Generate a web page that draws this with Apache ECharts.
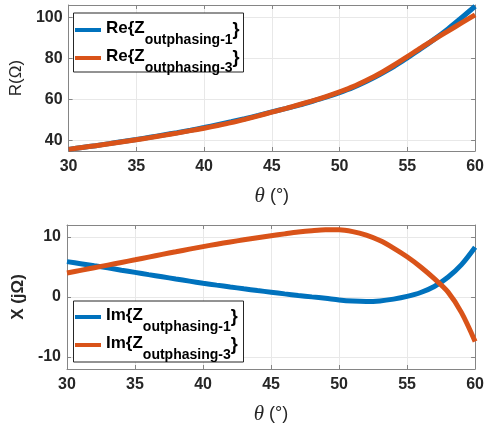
<!DOCTYPE html>
<html>
<head>
<meta charset="utf-8">
<title>Outphasing impedance</title>
<script src="https://cdn.jsdelivr.net/npm/echarts@6/dist/echarts.min.js"></script>
<style>
  html, body { margin: 0; padding: 0; background: #fff; }
  #chart { width: 487px; height: 426px; }
</style>
</head>
<body>
<div id="chart"></div>
<script>
// 数据（从原图读取，θ 每 1°）
const theta = [30, 31, 32, 33, 34, 35, 36, 37, 38, 39, 40, 41, 42, 43, 44, 45,
  46, 47, 48, 49, 50, 51, 52, 53, 54, 55, 56, 57, 58, 59, 60];

const reZ1 = [35.8, 36.7, 37.6, 38.6, 39.6, 40.6, 41.7, 42.8, 43.9, 45.1, 46.4, 47.8, 49.2, 50.7, 52.3, 54.0,
  55.6, 57.3, 59.2, 61.2, 63.4, 65.9, 68.9, 72.3, 76.0, 80.3, 84.7, 89.4, 94.4, 99.8, 105.4];
const reZ3 = [35.8, 36.7, 37.6, 38.5, 39.5, 40.5, 41.5, 42.6, 43.7, 44.9, 46.1, 47.4, 48.8, 50.4, 52.1, 53.9,
  55.6, 57.5, 59.4, 61.5, 63.8, 66.3, 69.4, 72.8, 76.7, 80.9, 85.2, 89.3, 93.3, 97.3, 101.2];

const imZ1 = [5.9, 5.55, 5.2, 4.85, 4.47, 4.1, 3.73, 3.37, 3.0, 2.65, 2.3, 1.98, 1.67, 1.37, 1.08, 0.8,
  0.52, 0.26, 0.02, -0.22, -0.5, -0.68, -0.75, -0.65, -0.35, 0.1, 0.75, 1.75, 3.3, 5.4, 8.3];
const imZ3 = [4.0, 4.44, 4.88, 5.32, 5.76, 6.2, 6.65, 7.1, 7.54, 7.98, 8.4, 8.8, 9.18, 9.53, 9.87, 10.2,
  10.52, 10.82, 11.05, 11.2, 11.2, 10.9, 10.3, 9.4, 8.15, 6.7, 5.0, 3.05, 0.85, -2.6, -7.4];

const xTicks = [30, 35, 40, 45, 50, 55, 60];
const reTicks = [40, 60, 80, 100];
const imTicks = [-10, 0, 10];

const BLUE = '#0072BD';
const ORANGE = '#D95319';
const TEXT = '#262626';
const BOX = '#858585';
const GRIDLINE = '#e8e8e8';
const FONT = 'Liberation Sans';

const legendNames = {
  're1': '{m|Re{Z}{s|outphasing-1}}',
  're3': '{m|Re{Z}{s|outphasing-3}}',
  'im1': '{m|Im{Z}{s|outphasing-1}}',
  'im3': '{m|Im{Z}{s|outphasing-3}}'
};

function pairs(xs, ys) {
  return xs.map((x, i) => [x, ys[i]]);
}

// 主坐标轴 + 边框上的对侧坐标轴
function xAxes(gridIndex) {
  const base = {
    type: 'value', gridIndex, min: xTicks[0], max: xTicks[xTicks.length - 1], interval: 5,
    axisLine: { show: true, onZero: false, lineStyle: { color: BOX, width: 1 } },
    axisTick: { show: true, inside: true, length: 4, lineStyle: { color: BOX } }
  };
  return [
    Object.assign({}, base, {
      position: 'bottom',
      splitLine: { show: true, lineStyle: { color: GRIDLINE, width: 1 } },
      axisLabel: { color: TEXT, fontFamily: FONT, fontWeight: 'bold', fontSize: 16, margin: 8 },
      name: '{t|θ} {n|(°)}',
      nameLocation: 'middle',
      nameGap: 35,
      nameTextStyle: {
        color: TEXT, fontFamily: FONT, fontSize: 18,
        rich: {
          t: { fontFamily: 'Liberation Serif', fontStyle: 'italic', fontSize: 21, color: TEXT },
          n: { fontFamily: FONT, fontSize: 18, color: TEXT }
        }
      }
    }),
    Object.assign({}, base, {
      position: 'top',
      splitLine: { show: false },
      axisLabel: { show: false }
    })
  ];
}

function yAxes(gridIndex, min, max, ticks, name, weight, gap) {
  const base = {
    type: 'value', gridIndex, min, max,
    axisLine: { show: true, onZero: false, lineStyle: { color: BOX, width: 1 } },
    axisTick: { show: true, inside: true, length: 4, customValues: ticks, lineStyle: { color: BOX } }
  };
  return [
    Object.assign({}, base, {
      position: 'left',
      splitLine: { show: true, lineStyle: { color: GRIDLINE, width: 1 } },
      axisLabel: { customValues: ticks, color: TEXT, fontFamily: FONT, fontWeight: 'bold', fontSize: 16, margin: 6 },
      name,
      nameLocation: 'middle',
      nameGap: gap,
      nameTextStyle: { color: TEXT, fontFamily: FONT, fontSize: 17, fontWeight: weight }
    }),
    Object.assign({}, base, {
      position: 'right',
      splitLine: { show: false },
      axisLabel: { show: false }
    })
  ];
}

// 图例：框用 graphic 画，条目用 legend
function legend(names, top) {
  return {
    data: names,
    orient: 'vertical',
    left: 75,
    top,
    padding: 0,
    itemGap: -6,
    itemWidth: 26,
    itemHeight: 4,
    icon: 'rect',
    z: 20,
    formatter: name => legendNames[name],
    textStyle: {
      color: '#000', fontFamily: FONT, fontWeight: 'bold', fontSize: 18, lineHeight: 12,
      rich: {
        m: { fontFamily: FONT, fontWeight: 'bold', fontSize: 17, color: '#000', lineHeight: 20, padding: [0, 0, 4, 0] },
        s: { fontFamily: FONT, fontWeight: 'bold', fontSize: 14, color: '#000', lineHeight: 16, padding: [20, 0, 0, 0] }
      }
    }
  };
}

function legendBox(y, h) {
  return {
    type: 'rect', left: 73, top: y, z: 10,
    shape: { width: 170, height: h },
    style: { fill: '#fff', stroke: TEXT, lineWidth: 1 }
  };
}

function line(name, xi, yi, data, color) {
  return {
    name, type: 'line', xAxisIndex: xi, yAxisIndex: yi,
    data, color, symbol: 'none', smooth: 0.3,
    lineStyle: { color, width: 5 },
    clip: true, animation: false
  };
}

const chart = echarts.init(document.getElementById('chart'), null, { renderer: 'canvas' });

chart.setOption({
  backgroundColor: '#fff',
  animation: false,
  grid: [
    { left: 67, top: 5, width: 410, height: 146 },
    { left: 67, top: 225, width: 410, height: 144 }
  ],
  xAxis: xAxes(0).concat(xAxes(1)),
  yAxis: yAxes(0, 35, 106, reTicks, 'R(Ω)', 'normal', 36)
    .concat(yAxes(1, -12, 12, imTicks, 'X (jΩ)', 'bold', 35)),
  graphic: [legendBox(12.5, 59), legendBox(300.5, 61)],
  legend: [legend(['re1', 're3'], 13), legend(['im1', 'im3'], 300)],
  series: [
    line('re1', 0, 0, pairs(theta, reZ1), BLUE),
    line('re3', 0, 0, pairs(theta, reZ3), ORANGE),
    line('im1', 2, 2, pairs(theta, imZ1), BLUE),
    line('im3', 2, 2, pairs(theta, imZ3), ORANGE)
  ]
});
</script>
</body>
</html>
